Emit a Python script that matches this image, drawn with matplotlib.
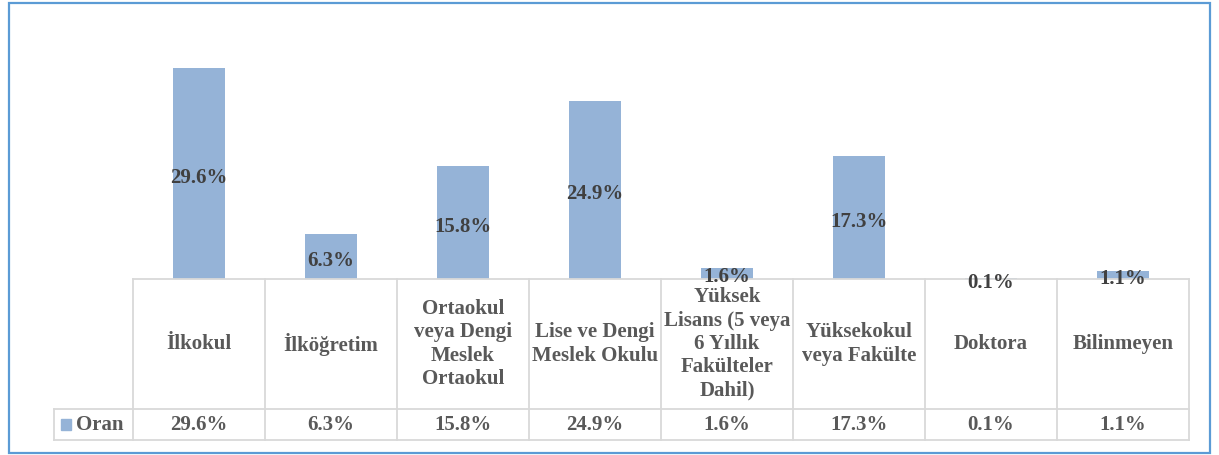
import matplotlib
matplotlib.use("Agg")
import matplotlib.pyplot as plt
from matplotlib.patches import Rectangle
from matplotlib.transforms import blended_transform_factory

categories = ["İlkokul", "İlköğretim", "Ortaokul\nveya Dengi\nMeslek\nOrtaokul",
              "Lise ve Dengi\nMeslek Okulu",
              "Yüksek\nLisans (5 veya\n6 Yıllık\nFakülteler\nDahil)",
              "Yüksekokul\nveya Fakülte", "Doktora", "Bilinmeyen"]
oran = [29.6, 6.3, 15.8, 24.9, 1.6, 17.3, 0.1, 1.1]
series_name = "Oran"

bar_color = "#95B3D7"
grid_color = "#D9D9D9"
label_color = "#404040"
table_color = "#595959"
W, H = 1219, 455

plt.rcParams['font.family'] = ['Liberation Serif', 'DejaVu Serif']
plt.rcParams['font.weight'] = 'bold'

fig = plt.figure(figsize=(W / 100, H / 100), dpi=100)
# outer chart border
fig.patches.append(Rectangle((9 / W, 2 / H), 1201 / W, 450 / H,
                             transform=fig.transFigure, fill=False,
                             edgecolor="#5B9BD5", lw=1.6))

ax = fig.add_axes([133 / W, 176 / H, 1056 / W, 249.5 / H])
x = list(range(len(oran)))
ax.bar(x, oran, width=0.4, color=bar_color)
ax.set_xlim(-0.5, len(oran) - 0.5)
ax.set_ylim(0, 35)
ax.axis("off")

for xi, v in zip(x, oran):
    ax.annotate(f"{v:.1f}%", (xi, v / 2), xytext=(0, -1.2),
                textcoords="offset points", ha="center",
                va="center_baseline", fontsize=15, color=label_color,
                fontweight="bold")

# data table below the plot area (x in data coords, y in axes fraction)
tr = blended_transform_factory(ax.transData, ax.transAxes)
px = 1 / 249.5  # one pixel in axes fraction
y_top = 0.0
y_mid = -130 * px
y_bot = -161 * px
x_leg = -0.5 - 79 / 132
lkw = dict(color=grid_color, lw=1.3, transform=tr, clip_on=False)
ax.plot([-0.5, len(oran) - 0.5], [y_top, y_top], **lkw)
ax.plot([x_leg, len(oran) - 0.5], [y_mid, y_mid], **lkw)
ax.plot([x_leg, len(oran) - 0.5], [y_bot, y_bot], **lkw)
ax.plot([x_leg, x_leg], [y_mid, y_bot], **lkw)
for i in range(len(oran) + 1):
    ax.plot([i - 0.5, i - 0.5], [y_top, y_bot], **lkw)

for xi, cat, v in zip(x, categories, oran):
    ax.text(xi, (y_top + y_mid) / 2, cat, ha="center", va="center",
            fontsize=15, color=table_color, transform=tr, linespacing=1.22,
            fontweight="bold")
    ax.text(xi, (y_mid + y_bot) / 2, f"{v:.1f}%", ha="center", va="center",
            fontsize=15, color=table_color, transform=tr, fontweight="bold")

# legend key + series name in the row header
ax.add_patch(Rectangle((-0.5 - 72 / 132, y_mid - 21 * px), 10 / 132, 11 * px,
                       transform=tr, color=bar_color, clip_on=False))
ax.text(-0.5 - 57 / 132, (y_mid + y_bot) / 2, series_name, ha="left",
        va="center", fontsize=15, color=table_color, transform=tr,
        fontweight="bold")

fig.savefig("out.png", dpi=100)
